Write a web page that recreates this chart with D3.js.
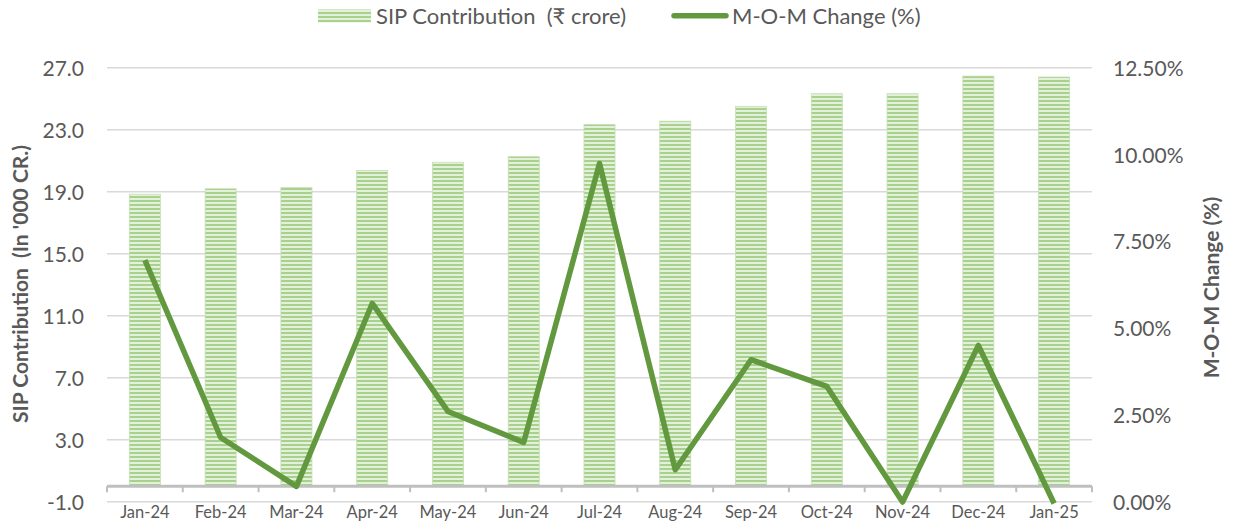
<html>
<head>
<meta charset="utf-8">
<script src="https://d3js.org/d3.v7.min.js"></script>
<style>
  body { margin: 0; background: #fff; }
  text { font-family: Lato, "Open Sans", sans-serif; fill: #595959; }
</style>
</head>
<body>
<div id="chart"></div>
<script>
// data
var months = ["Jan-24", "Feb-24", "Mar-24", "Apr-24", "May-24", "Jun-24", "Jul-24",
              "Aug-24", "Sep-24", "Oct-24", "Nov-24", "Dec-24", "Jan-25"];
var sipContribution = [18.84, 19.19, 19.27, 20.37, 20.90, 21.26, 23.33,
                       23.55, 24.51, 25.32, 25.32, 26.46, 26.40];
var momChange = [6.96, 1.85, 0.44, 5.71, 2.60, 1.71, 9.74,
                 0.92, 4.09, 3.32, -0.01, 4.50, -0.05];
var leftTicks = [-1, 3, 7, 11, 15, 19, 23, 27];
var rightTicks = [0, 2.5, 5, 7.5, 10, 12.5];

var W = 1237, H = 525;
var plotLeft = 107, plotRight = 1092, plotTop = 67.7, plotBottom = 501.7;
var green = "#62993e";

var svg = d3.select("#chart").append("svg")
    .attr("width", W)
    .attr("height", H);

var defs = svg.append("defs");
var pat = defs.append("pattern")
    .attr("id", "stripes")
    .attr("patternUnits", "userSpaceOnUse")
    .attr("width", 4)
    .attr("height", 4);
pat.append("rect").attr("width", 4).attr("height", 4).attr("fill", "#e3f0da");
pat.append("rect").attr("width", 4).attr("height", 2).attr("fill", "#a9d18e");

var x = d3.scaleBand().domain(months).range([plotLeft, plotRight])
    .paddingInner(0.59).paddingOuter(0.295);
var yL = d3.scaleLinear().domain([-1, 27]).range([plotBottom, plotTop]);
var yR = d3.scaleLinear().domain([0, 12.5]).range([plotBottom, plotTop]);

// gridlines
svg.append("g").selectAll("line")
    .data(leftTicks)
    .enter().append("line")
    .attr("x1", plotLeft).attr("x2", plotRight)
    .attr("y1", function(d) { return yL(d); })
    .attr("y2", function(d) { return yL(d); })
    .attr("stroke", "#d9d9d9")
    .attr("stroke-width", 1.5);

// bars
svg.append("g").selectAll("rect")
    .data(sipContribution)
    .enter().append("rect")
    .attr("x", function(d, i) { return x(months[i]); })
    .attr("width", x.bandwidth())
    .attr("y", function(d) { return yL(d); })
    .attr("height", function(d) { return yL(0) - yL(d); })
    .attr("fill", "url(#stripes)")
    .attr("stroke", "#c5e0b4")
    .attr("stroke-width", 0.8);

// x axis line at zero + ticks
var xAxis = svg.append("g");
xAxis.append("line")
    .attr("x1", plotLeft).attr("x2", plotRight)
    .attr("y1", yL(0)).attr("y2", yL(0))
    .attr("stroke", "#bfbfbf")
    .attr("stroke-width", 3);
var bounds = months.map(function(m) { return x(m) - x.step() * x.paddingInner() / 2; });
bounds.push(plotRight);
xAxis.selectAll(".tk")
    .data(bounds)
    .enter().append("line")
    .attr("class", "tk")
    .attr("x1", function(d) { return d; })
    .attr("x2", function(d) { return d; })
    .attr("y1", yL(0))
    .attr("y2", yL(0) + 6)
    .attr("stroke", "#bfbfbf")
    .attr("stroke-width", 2);
xAxis.selectAll(".lbl")
    .data(months)
    .enter().append("text")
    .attr("class", "lbl")
    .attr("x", function(d) { return x(d) + x.bandwidth() / 2; })
    .attr("y", 517.5)
    .attr("text-anchor", "middle")
    .attr("font-size", 16.5)
    .text(function(d) { return d; });

// left tick labels
var fmtL = d3.format(".1f");
svg.append("g").selectAll("text")
    .data(leftTicks)
    .enter().append("text")
    .attr("x", 84)
    .attr("y", function(d) { return yL(d) + 8; })
    .attr("text-anchor", "end")
    .attr("font-size", 21)
    .text(function(d) { return fmtL(d).replace("\u2212", "-"); });

// right tick labels
svg.append("g").selectAll("text")
    .data(rightTicks)
    .enter().append("text")
    .attr("x", 1113)
    .attr("y", function(d) { return yR(d) + 8; })
    .attr("text-anchor", "start")
    .attr("font-size", 21)
    .text(function(d) { return d3.format(".2f")(d) + "%"; });

// line
var line = d3.line()
    .x(function(d, i) { return x(months[i]) + x.bandwidth() / 2; })
    .y(function(d) { return yR(d); });
svg.append("path")
    .datum(momChange)
    .attr("fill", "none")
    .attr("stroke", green)
    .attr("stroke-width", 5.5)
    .attr("stroke-linejoin", "round")
    .attr("d", line);

// axis titles
svg.append("text")
    .attr("transform", "translate(28,284) rotate(-90)")
    .attr("text-anchor", "middle")
    .attr("font-size", 21)
    .attr("font-weight", "bold")
    .attr("xml:space", "preserve")
    .text("SIP Contribution  (In '000 CR.)");
svg.append("text")
    .attr("transform", "translate(1219,287.5) rotate(-90)")
    .attr("text-anchor", "middle")
    .attr("font-size", 21)
    .attr("font-weight", "bold")
    .text("M-O-M Change (%)");

// legend
var lg = svg.append("g");
lg.append("rect")
    .attr("x", 318).attr("y", 9.5)
    .attr("width", 53).attr("height", 13)
    .attr("fill", "url(#stripes)");
lg.append("text")
    .attr("x", 376).attr("y", 24)
    .attr("font-size", 22)
    .attr("xml:space", "preserve")
    .text("SIP Contribution  (\u20B9 crore)");
lg.append("line")
    .attr("x1", 674).attr("x2", 726)
    .attr("y1", 15.7).attr("y2", 15.7)
    .attr("stroke", green)
    .attr("stroke-width", 5.5)
    .attr("stroke-linecap", "round");
lg.append("text")
    .attr("x", 732).attr("y", 24)
    .attr("font-size", 22)
    .text("M-O-M Change (%)");
</script>
</body>
</html>
